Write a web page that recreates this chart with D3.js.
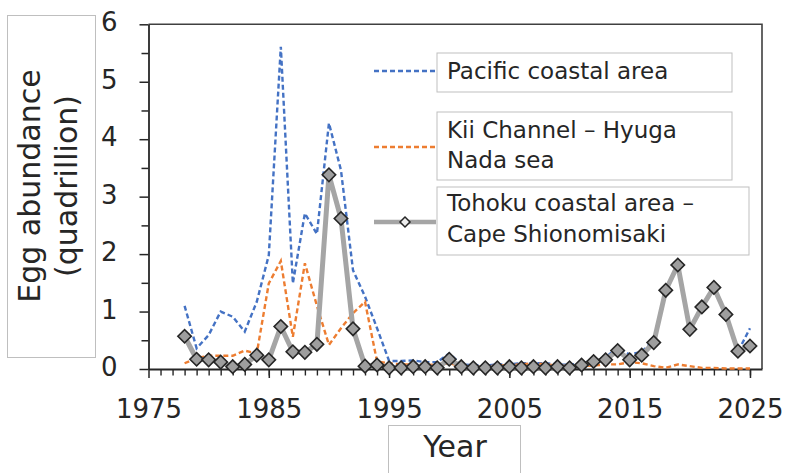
<!DOCTYPE html>
<html>
<head>
<meta charset="utf-8">
<script src="https://cdn.jsdelivr.net/npm/d3@7"></script>
<style>
  html, body { margin: 0; padding: 0; background: #fff; }
  svg { display: block; }
  text { font-family: "DejaVu Sans", Verdana, sans-serif; fill: #262626; }
</style>
</head>
<body>
<svg id="chart" width="787" height="473"></svg>
<script>
// ---------------- data ----------------
const years = d3.range(1978, 2026);
const pacific = [1.10, 0.36, 0.59, 1.00, 0.91, 0.65, 1.17, 1.98, 5.61, 1.49,
                 2.71, 2.35, 4.28, 3.46, 1.72, 1.26, 0.71, 0.14, 0.14, 0.15,
                 0.12, 0.12, 0.27, 0.08, 0.07, 0.06, 0.08, 0.08, 0.10, 0.10,
                 0.10, 0.08, 0.07, 0.10, 0.15, 0.20, 0.38, 0.25, 0.30, 0.50,
                 1.38, 1.83, 0.72, 1.10, 1.44, 0.98, 0.30, 0.71];
const kii = [0.10, 0.19, 0.23, 0.23, 0.23, 0.32, 0.27, 1.49, 1.88, 0.56,
             1.84, 1.10, 0.42, 0.71, 0.97, 1.17, 0.13, 0.10, 0.08, 0.08,
             0.07, 0.08, 0.10, 0.05, 0.04, 0.05, 0.06, 0.07, 0.08, 0.10,
             0.08, 0.06, 0.05, 0.05, 0.06, 0.08, 0.08, 0.12, 0.10, 0.05,
             0.02, 0.08, 0.05, 0.02, 0.02, 0.01, 0.01, 0.01];
const tohoku = [0.57, 0.17, 0.16, 0.12, 0.04, 0.08, 0.24, 0.16, 0.74, 0.30,
                0.29, 0.43, 3.38, 2.62, 0.70, 0.05, 0.07, 0.02, 0.02, 0.04,
                0.04, 0.02, 0.17, 0.04, 0.02, 0.02, 0.02, 0.04, 0.02, 0.04,
                0.02, 0.04, 0.02, 0.07, 0.13, 0.16, 0.32, 0.16, 0.24, 0.46,
                1.37, 1.81, 0.69, 1.08, 1.42, 0.95, 0.31, 0.40];
const xTickLabels = [1975, 1985, 1995, 2005, 2015, 2025];
const yTickLabels = [0, 1, 2, 3, 4, 5, 6];
const seriesNames = ["Pacific coastal area", "Kii Channel \u2013 Hyuga|Nada sea", "Tohoku coastal area \u2013|Cape Shionomisaki"];
const yTitleLines = ["Egg abundance", "(quadrillion)"];
const xTitle = "Year";

// ---------------- layout ----------------
const svg = d3.select("#chart");
const L = 148.5, R = 762, T = 24.3, B = 369;
const x = d3.scaleLinear().domain([1975, 2026]).range([L, R]);
const y = d3.scaleLinear().domain([0, 6]).range([B, T]);

svg.append("rect").attr("width", 787).attr("height", 473).attr("fill", "#fff");

// plot frame (top and right)
svg.append("path")
  .attr("d", `M${L},${T} H${R} V${B}`)
  .attr("fill", "none").attr("stroke", "#404040").attr("stroke-width", 1.6);

// ---------------- axes ----------------
svg.append("g").attr("transform", `translate(${L},0)`)
  .call(d3.axisLeft(y).tickValues(d3.range(0.5, 6, 1)).tickSize(7).tickFormat(""))
  .call(g => g.select(".domain").remove())
  .call(g => g.selectAll("line").attr("stroke", "#262626").attr("stroke-width", 1.5));
svg.append("g").attr("transform", `translate(${L},0)`)
  .call(d3.axisLeft(y).tickValues(yTickLabels).tickSize(9).tickFormat(d3.format("d")).tickSizeOuter(0))
  .call(g => g.select(".domain").attr("stroke", "#262626").attr("stroke-width", 1.8))
  .call(g => g.selectAll("line").attr("stroke", "#262626").attr("stroke-width", 1.5))
  .call(g => g.selectAll("text").attr("x", -31).attr("dy", "0.25em")
      .attr("font-size", 26).attr("font-family", "DejaVu Sans").attr("fill", "#262626"));

svg.append("g").attr("transform", `translate(0,${B})`)
  .call(d3.axisBottom(x).tickValues(d3.range(1976, 2026)).tickSize(6.5).tickFormat(""))
  .call(g => g.select(".domain").remove())
  .call(g => g.selectAll("line").attr("stroke", "#262626").attr("stroke-width", 1.4));
svg.append("g").attr("transform", `translate(0,${B})`)
  .call(d3.axisBottom(x).tickValues(xTickLabels).tickSize(9).tickFormat(d3.format("d")).tickSizeOuter(0))
  .call(g => g.select(".domain").attr("stroke", "#262626").attr("stroke-width", 1.8))
  .call(g => g.selectAll("line").attr("stroke", "#262626").attr("stroke-width", 1.5))
  .call(g => g.selectAll("text").attr("y", 49).attr("dy", 0)
      .attr("font-size", 26).attr("font-family", "DejaVu Sans").attr("fill", "#262626"));

// ---------------- series ----------------
const line = d3.line().x((d, i) => x(years[i])).y(d => y(d));

svg.append("path").datum(pacific).attr("d", line)
  .attr("fill", "none").attr("stroke", "#4472C4").attr("stroke-width", 2.4)
  .attr("stroke-dasharray", "5,3");
svg.append("path").datum(kii).attr("d", line)
  .attr("fill", "none").attr("stroke", "#ED7D31").attr("stroke-width", 2.4)
  .attr("stroke-dasharray", "5,3");
svg.append("path").datum(tohoku).attr("d", line)
  .attr("fill", "none").attr("stroke", "#A5A5A5").attr("stroke-width", 5)
  .attr("stroke-linejoin", "round");

const diamond = d3.symbol().type(d3.symbolSquare).size(90);
svg.append("g").selectAll("path").data(tohoku).join("path")
  .attr("d", diamond)
  .attr("transform", (d, i) => `translate(${x(years[i])},${y(d)}) rotate(45)`)
  .attr("fill", "#9E9E9E").attr("stroke", "#262626").attr("stroke-width", 1.6);

// ---------------- legend ----------------
const legendItems = [
  { color: "#4472C4", dash: "5,3", width: 2.4, marker: false, ly: 71, box: [437, 53, 295, 39], base: [79] },
  { color: "#ED7D31", dash: "5,3", width: 2.4, marker: false, ly: 147, box: [437, 112, 295, 68], base: [137.5, 167.5] },
  { color: "#A5A5A5", dash: null, width: 4.5, marker: true, ly: 222, box: [437, 187, 312, 68], base: [211, 241.5] }
];
legendItems.forEach((it, k) => {
  svg.append("rect").attr("x", it.box[0]).attr("y", it.box[1]).attr("width", it.box[2]).attr("height", it.box[3])
    .attr("fill", "#fff").attr("stroke", "#BFBFBF").attr("stroke-width", 1);
  svg.append("line").attr("x1", 374).attr("x2", 436).attr("y1", it.ly).attr("y2", it.ly)
    .attr("stroke", it.color).attr("stroke-width", it.width)
    .attr("stroke-dasharray", it.dash);
  if (it.marker) {
    svg.append("path").attr("d", d3.symbol().type(d3.symbolSquare).size(50)())
      .attr("transform", `translate(405,${it.ly}) rotate(45)`)
      .attr("fill", "#EDEDED").attr("stroke", "#262626").attr("stroke-width", 1.5);
  }
  seriesNames[k].split("|").forEach((t, j) => {
    svg.append("text").attr("x", 447).attr("y", it.base[j]).attr("font-size", 23).text(t);
  });
});

// ---------------- titles ----------------
svg.append("rect").attr("x", 7.5).attr("y", 15.5).attr("width", 88).attr("height", 342)
  .attr("fill", "#fff").attr("stroke", "#BFBFBF").attr("stroke-width", 1);
yTitleLines.forEach((t, j) => {
  svg.append("text").attr("transform", `translate(${j === 0 ? 39.5 : 77},186) rotate(-90)`)
    .attr("text-anchor", "middle").attr("font-size", 30).text(t);
});

svg.append("rect").attr("x", 388.5).attr("y", 425.5).attr("width", 132).attr("height", 60)
  .attr("fill", "#fff").attr("stroke", "#BFBFBF").attr("stroke-width", 1);
svg.append("text").attr("x", 455).attr("y", 457).attr("text-anchor", "middle")
  .attr("font-size", 30).text(xTitle);
</script>
</body>
</html>
